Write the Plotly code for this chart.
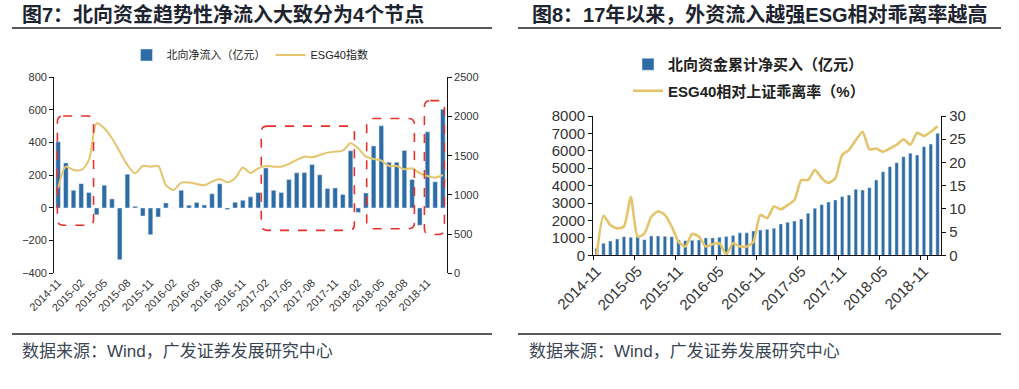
import pandas as pd
import plotly.graph_objects as go

# ---------------- data ----------------
MONTHS = [d.strftime("%Y-%m") for d in pd.date_range("2014-11-01", "2019-01-01", freq="MS")]

# Fig 7: monthly northbound net inflow (亿元) and ESG40 index
NET_FLOW = [405, 276, 108, 149, 94, -41, 139, 55, -317, 207, 10, -49, -164, -55, 31, 0,
            108, 17, 33, 18, 87, 148, -10, 35, 47, 68, 94, 245, 108, 94, 174, 215,
            217, 266, 203, 119, 123, 82, 350, -27, 92, 380, 503, 280, 280, 352, 174,
            -106, 466, 160, 604]
ESG40 = [1084, 1360, 1318, 1318, 1446, 1913, 1850, 1722, 1552, 1382, 1276, 1369, 1360,
         1369, 1127, 1063, 1157, 1157, 1140, 1123, 1169, 1203, 1161, 1212, 1350, 1280,
         1339, 1369, 1360, 1360, 1395, 1446, 1488, 1480, 1509, 1539, 1552, 1565, 1658,
         1594, 1488, 1458, 1437, 1369, 1369, 1327, 1339, 1276, 1242, 1220, 1254]

# Fig 8: cumulative northbound net buy (亿元) and ESG40 deviation vs SSE (%)
CUM_BUY = [400, 690, 823, 938, 1072, 1034, 1072, 900, 1110, 1110, 1090, 1070, 880, 842,
           860, 880, 1000, 1000, 1040, 1080, 1140, 1290, 1290, 1400, 1450, 1490, 1550,
           1800, 1900, 1970, 2090, 2410, 2700, 2910, 3060, 3180, 3370, 3460, 3790, 3750,
           3885, 4325, 4800, 5090, 5320, 5665, 5860, 5760, 6240, 6390, 7005]
DEVIATION = [0.0, 8.5, 6.5, 5.8, 6.2, 12.6, 4.0, 4.7, 8.3, 9.5, 8.7, 6.2, 2.9, 1.9, 4.6,
             4.0, 1.9, 2.4, 2.6, 0.2, 2.6, 1.9, 1.9, 2.9, 8.7, 8.0, 10.5, 9.9, 10.8, 11.9,
             16.2, 16.2, 18.4, 16.6, 15.6, 16.6, 21.6, 22.7, 24.8, 26.6, 22.8, 23.0, 22.3,
             23.0, 23.8, 25.0, 23.8, 26.4, 25.7, 26.6, 27.8]

TICKS_LEFT = MONTHS[::3]
TICKS_RIGHT = MONTHS[::6]

# highlighted periods in Fig 7: (start idx, end idx, low, high)
HIGHLIGHTS = [(-0.1, 4.6, -106, 563), (26.4, 38.5, -137, 501),
              (40.1, 46.3, -127, 548), (47.6, 50.2, -162, 657)]

TITLE_L = "图7：北向资金趋势性净流入大致分为4个节点"
TITLE_R = "图8：17年以来，外资流入越强ESG相对乖离率越高"
SOURCE = "数据来源：Wind，广发证券发展研究中心"

# ---------------- layout helpers ----------------
W, H = 1019, 389
def px(x):
    return x / W
def py(y):
    return 1 - y / H

BLUE = "#2d6ca5"
GOLD = "#e4c56c"
RED = "#e8312b"
FONT = "Liberation Sans, Noto Sans CJK SC, sans-serif"

fig = go.Figure()
fig.add_trace(go.Bar(x=MONTHS, y=NET_FLOW, name="北向净流入（亿元）", marker_color=BLUE,
                     width=0.6, xaxis="x", yaxis="y", legend="legend", legendgroup="a"))
fig.add_trace(go.Scatter(x=MONTHS, y=ESG40, name="ESG40指数", mode="lines",
                         line=dict(color=GOLD, width=2, shape="spline", smoothing=0.8),
                         xaxis="x", yaxis="y2", legend="legend", legendgroup="b"))
fig.add_trace(go.Bar(x=MONTHS, y=CUM_BUY, name="北向资金累计净买入（亿元）", marker_color=BLUE,
                     width=0.5, xaxis="x2", yaxis="y3", legend="legend2", legendgroup="c"))
fig.add_trace(go.Scatter(x=MONTHS, y=DEVIATION, name="ESG40相对上证乖离率（%）", mode="lines",
                         line=dict(color=GOLD, width=2.6, shape="spline", smoothing=0.6),
                         xaxis="x2", yaxis="y4", legend="legend2", legendgroup="d"))

tick_font_l = dict(family=FONT, size=11, color="#333")
tick_font_r = dict(family=FONT, size=15, color="#333")
axis_common = dict(showgrid=False, zeroline=False, linecolor="#111", linewidth=1.3,
                   tickcolor="#111", ticklen=4, tickwidth=1, automargin=False)

XL = [px(54.3), px(446.7)]
YL = [py(273.3), py(77.3)]
XR = [px(593.3), px(941)]
YR = [py(255.3), py(116)]
zero_pos = YL[0] + (YL[1] - YL[0]) * (400 / 1200)

fig.update_layout(
    width=W, height=H, margin=dict(l=0, r=0, t=0, b=0, autoexpand=False),
    paper_bgcolor="white", plot_bgcolor="white", font=dict(family=FONT, color="#333"),
    bargap=0.4, showlegend=True,
    xaxis=dict(domain=XL, anchor="y", type="category", categoryorder="array",
               categoryarray=MONTHS, range=[-0.5, 50.5], tickvals=TICKS_LEFT,
               tickangle=-45, showline=False, ticks="", tickfont=tick_font_l,
               showgrid=False, zeroline=False, automargin=False),
    xaxis5=dict(overlaying="x", anchor="free", position=zero_pos, type="category",
                categoryorder="array", categoryarray=MONTHS, range=[-0.5, 50.5],
                tickvals=TICKS_LEFT, tickson="boundaries", showticklabels=False,
                ticks="outside", showline=True, **axis_common),
    yaxis=dict(domain=YL, anchor="x", range=[-400, 800], dtick=200, showline=True,
               ticks="outside", tickfont=tick_font_l, **axis_common),
    yaxis2=dict(overlaying="y", side="right", anchor="x", range=[0, 2500], dtick=500,
                showline=True, ticks="outside", tickfont=tick_font_l, **axis_common),
    xaxis2=dict(domain=XR, anchor="y3", type="category", categoryorder="array",
                categoryarray=MONTHS, range=[-0.5, 50.5], tickvals=TICKS_RIGHT,
                tickson="boundaries", tickangle=-45, showline=True, ticks="outside",
                tickfont=tick_font_r, **axis_common),
    yaxis3=dict(domain=YR, anchor="x2", range=[0, 8000], dtick=1000, showline=True,
                ticks="outside", tickfont=tick_font_r, **axis_common),
    yaxis4=dict(overlaying="y3", side="right", anchor="x2", range=[0, 30], dtick=5,
                showline=True, ticks="outside", tickfont=tick_font_r, **axis_common),
    legend=dict(orientation="h", x=px(250), xanchor="center", y=py(55), yanchor="middle",
                font=dict(family=FONT, size=11, color="#222"), bgcolor="rgba(0,0,0,0)",
                itemwidth=30, traceorder="normal"),
    legend2=dict(orientation="v", x=px(628), xanchor="left", y=py(48), yanchor="top",
                 font=dict(family=FONT, size=15, color="#222", weight="bold"),
                 bgcolor="rgba(0,0,0,0)", itemwidth=30, tracegroupgap=4,
                 traceorder="grouped"),
)

shapes = []
for x0, x1, y0, y1 in [(12, 492, 28, 28), (518, 1001, 28, 28),
                       (12, 492, 334, 334), (518, 1001, 334, 334)]:
    shapes.append(dict(type="line", xref="paper", yref="paper", x0=px(x0), x1=px(x1),
                       y0=py(y0), y1=py(y1), line=dict(color="#222", width=1.5)))

rx, ry = 0.75, 36
for a, b, lo, hi in HIGHLIGHTS:
    path = (f"M {a+rx},{hi} L {b-rx},{hi} Q {b},{hi} {b},{hi-ry} "
            f"L {b},{lo+ry} Q {b},{lo} {b-rx},{lo} L {a+rx},{lo} Q {a},{lo} {a},{lo+ry} "
            f"L {a},{hi-ry} Q {a},{hi} {a+rx},{hi} Z")
    shapes.append(dict(type="path", xref="x", yref="y", path=path,
                       line=dict(color=RED, width=1.6, dash="dash"), layer="above"))
fig.update_layout(shapes=shapes)

title_font = dict(family=FONT, size=20, color="#1d2430", weight="bold")
src_font = dict(family=FONT, size=17, color="#3a4654")
fig.add_annotation(text=TITLE_L, xref="paper", yref="paper", x=px(20), y=py(14),
                   xanchor="left", yanchor="middle", showarrow=False, font=title_font)
fig.add_annotation(text=TITLE_R, xref="paper", yref="paper", x=px(530), y=py(14),
                   xanchor="left", yanchor="middle", showarrow=False, font=title_font)
fig.add_annotation(text=SOURCE, xref="paper", yref="paper", x=px(20), y=py(351),
                   xanchor="left", yanchor="middle", showarrow=False, font=src_font)
fig.add_annotation(text=SOURCE, xref="paper", yref="paper", x=px(527), y=py(351),
                   xanchor="left", yanchor="middle", showarrow=False, font=src_font)

# remove the browser's default 8px body margin so the figure fills the window exactly
fig.write_html("out.html", config={"displayModeBar": False},
               post_script="document.body.style.margin='0px';document.body.style.overflow='hidden';")
